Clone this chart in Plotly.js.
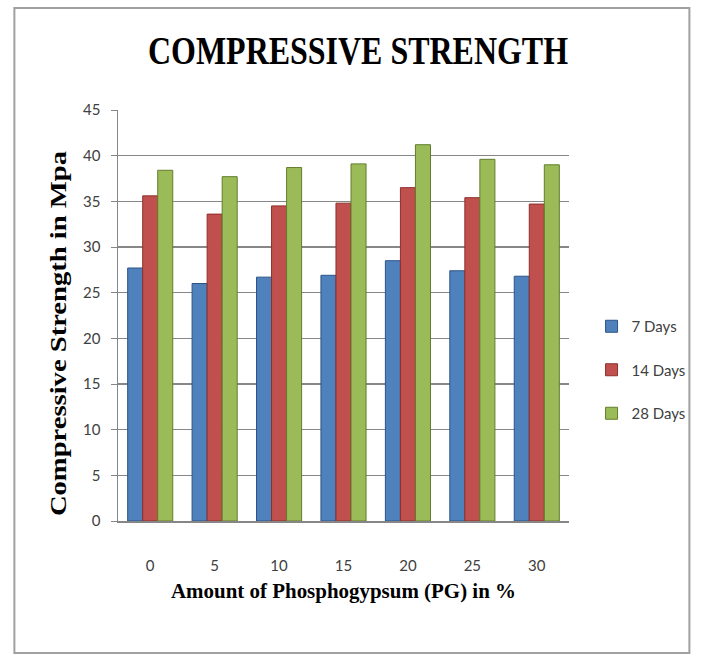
<!DOCTYPE html>
<html>
<head>
<meta charset="utf-8">
<script src="https://cdn.plot.ly/plotly-3.0.1.min.js"></script>
<style>html,body{margin:0;padding:0;background:#fff;}</style>
</head>
<body>
<div id="chart" style="width:703px;height:658px;"></div>
<script>
const categories = ["0", "5", "10", "15", "20", "25", "30"];
const days7 = [27.7, 26.0, 26.7, 26.9, 28.5, 27.4, 26.8];
const days14 = [35.6, 33.6, 34.5, 34.8, 36.5, 35.4, 34.7];
const days28 = [38.4, 37.7, 38.7, 39.1, 41.2, 39.6, 39.0];
const seriesNames = ["7 Days", "14 Days", "28 Days"];
const yTicks = [0, 5, 10, 15, 20, 25, 30, 35, 40, 45];
const yTitle = "Compressive Strength in Mpa";

const colors = ["#4F81BD", "#C0504D", "#9BBB59"];
const edges = ["#2C5386", "#8E2F2C", "#637D2B"];
const series = [days7, days14, days28];

const traces = series.map((vals, i) => ({
  type: "bar",
  x: categories,
  y: vals,
  name: seriesNames[i],
  legendgroup: "g" + i,
  marker: { color: colors[i], line: { color: edges[i], width: 1 } },
  hoverinfo: "x+y+name"
}));

const L = 118, R = 575, T = 110, B = 521;
const W = R - L, H = B - T;
function px(x) { return (x - L) / W; }
function py(y) { return (B - y) / H; }

const tickFont = { family: "Lato, Open Sans, sans-serif", size: 15, color: "#404040" };
const serif = "Liberation Serif, Times New Roman, serif";

const layout = {
  width: 703,
  height: 658,
  autosize: false,
  margin: { l: L, r: 703 - R, t: T, b: 658 - B },
  paper_bgcolor: "#ffffff",
  plot_bgcolor: "#ffffff",
  barmode: "group",
  bargap: 0.3,
  bargroupgap: 0,
  title: {
    text: "<b>COMPRESSIVE STRENGTH</b>",
    font: { family: serif, size: 40, color: "#000" },
    x: 358 / 703, xanchor: "center", y: 1 - 50 / 658, yanchor: "middle"
  },
  xaxis: {
    type: "category",
    tickfont: tickFont,
    showline: true, linecolor: "#868686", linewidth: 1.5,
    ticks: "", ticklabelstandoff: 30,
    title: {
      text: "<b>Amount of Phosphogypsum (PG) in %</b>",
      font: { family: serif, size: 21, color: "#000" },
      standoff: 11
    }
  },
  yaxis: {
    range: [0, 45],
    tickvals: yTicks,
    tickfont: tickFont,
    showgrid: true, gridcolor: "#878787", gridwidth: 1.5,
    showline: true, linecolor: "#868686", linewidth: 1.5,
    zeroline: false,
    ticks: "outside", ticklen: 6, tickcolor: "#868686",
    ticklabelstandoff: 7
  },
  annotations: [{
    text: "<b>" + yTitle + "</b>",
    xref: "paper", yref: "paper",
    x: px(57), y: py(334),
    xanchor: "center", yanchor: "middle",
    textangle: -90, showarrow: false,
    font: { family: serif, size: 24, color: "#000" }
  }],
  legend: {
    x: 1.05, xanchor: "left",
    y: py(370), yanchor: "middle",
    bgcolor: "rgba(0,0,0,0)",
    font: tickFont,
    traceorder: "grouped",
    tracegroupgap: 21,
    itemwidth: 30
  },
  shapes: [{
    type: "rect", xref: "paper", yref: "paper",
    x0: px(13), x1: px(697), y0: py(653), y1: py(8),
    line: { color: "#a0a0a0", width: 2 },
    fillcolor: "rgba(0,0,0,0)", layer: "below"
  }]
};

Plotly.newPlot("chart", traces, layout, { displayModeBar: false, staticPlot: true }).then(function (gd) {
  function fit(sel, len) {
    const el = gd.querySelector(sel);
    if (el) {
      el.setAttribute("textLength", len);
      el.setAttribute("lengthAdjust", "spacingAndGlyphs");
    }
  }
  fit(".gtitle", 420);
  fit(".xtitle", 345);
  fit(".annotation-text", 365);
});
</script>
</body>
</html>
